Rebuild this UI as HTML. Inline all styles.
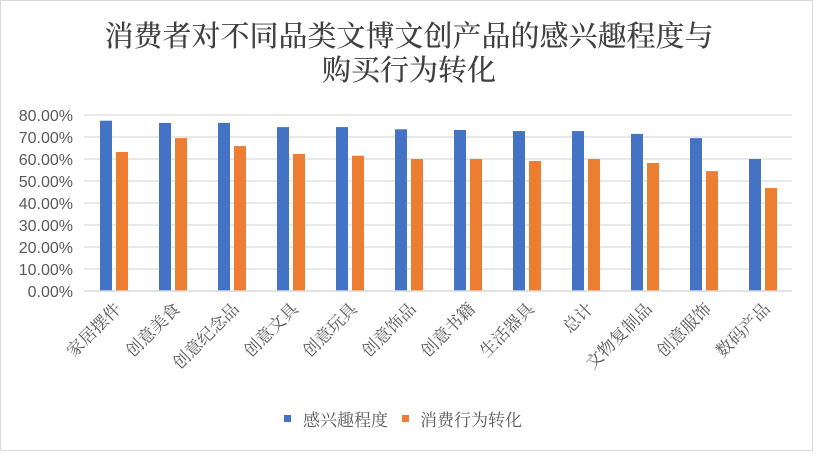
<!DOCTYPE html><html><head><meta charset="utf-8"><style>
body{margin:0;background:#fff}
svg text{font-family:"Liberation Sans","Noto Sans CJK SC",sans-serif}
svg text.s{font-family:"Liberation Serif","Noto Serif CJK SC",serif}
</style></head><body>
<svg width="817" height="452" xmlns="http://www.w3.org/2000/svg">
<rect x="0.5" y="0.5" width="812" height="450" fill="#fff" stroke="#d9d9d9"/>
<text class="s" x="409" y="46" text-anchor="middle" font-size="29" font-weight="500" fill="#404040">消费者对不同品类文博文创产品的感兴趣程度与</text>
<text class="s" x="409" y="80" text-anchor="middle" font-size="29" font-weight="500" fill="#404040">购买行为转化</text>
<g stroke="#e0e0e0" stroke-width="1.5">
<line x1="84" x2="792" y1="115" y2="115"/><line x1="84" x2="792" y1="137" y2="137"/>
<line x1="84" x2="792" y1="159" y2="159"/><line x1="84" x2="792" y1="181" y2="181"/>
<line x1="84" x2="792" y1="203" y2="203"/><line x1="84" x2="792" y1="225" y2="225"/>
<line x1="84" x2="792" y1="247" y2="247"/><line x1="84" x2="792" y1="269" y2="269"/>
</g>
<g font-size="16" fill="#595959" text-anchor="end">
<text x="73" y="121">80.00%</text><text x="73" y="143">70.00%</text><text x="73" y="165">60.00%</text>
<text x="73" y="187">50.00%</text><text x="73" y="209">40.00%</text><text x="73" y="231">30.00%</text>
<text x="73" y="253">20.00%</text><text x="73" y="275">10.00%</text><text x="73" y="297">0.00%</text>
</g>
<g id="bars"></g>
<line x1="84" x2="792" y1="291" y2="291" stroke="#d9d9d9" stroke-width="1.5"/>
<g id="labels" font-size="17" fill="#595959"></g>
<rect x="284" y="415" width="7" height="7" fill="#4472c4"/>
<text class="s" x="303" y="426" font-size="17" fill="#595959">感兴趣程度</text>
<rect x="402" y="415" width="7" height="7" fill="#ed7d31"/>
<text class="s" x="420" y="426" font-size="17" fill="#595959">消费行为转化</text>
</svg>
<script>
var b=[77.4,76.4,76.4,74.5,74.5,73.5,73.2,72.7,72.7,71.4,69.5,60];
var o=[63.2,69.5,65.9,62.3,61.5,60,60,59.1,60,58.2,54.5,46.8];
var n=["家居摆件","创意美食","创意纪念品","创意文具","创意玩具","创意饰品","创意书籍","生活器具","总计","文物复制品","创意服饰","数码产品"];
var ns="http://www.w3.org/2000/svg",g=document.getElementById("bars"),l=document.getElementById("labels");
function r(x,v,c){var e=document.createElementNS(ns,"rect");var h=v*2.2;e.setAttribute("x",x);e.setAttribute("y",291-h);e.setAttribute("width",12);e.setAttribute("height",h);e.setAttribute("fill",c);g.appendChild(e);}
for(var i=0;i<12;i++){var x0=100+i*59;r(x0,b[i],"#4472c4");r(x0+16,o[i],"#ed7d31");
var t=document.createElementNS(ns,"text");var cx=x0+22,cy=310;t.setAttribute("class","s");t.setAttribute("x",cx);t.setAttribute("y",cy);t.setAttribute("text-anchor","end");t.setAttribute("transform","rotate(-45 "+cx+" "+cy+")");t.textContent=n[i];l.appendChild(t);}
</script>
</body></html>
